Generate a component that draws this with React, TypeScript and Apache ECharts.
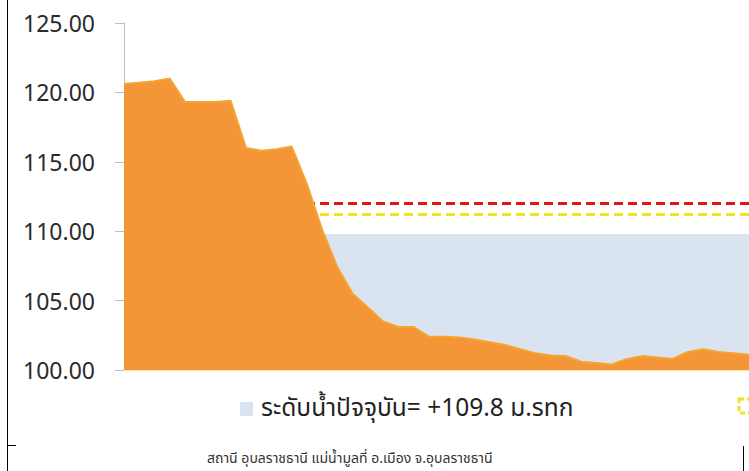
import React, { useEffect, useRef } from "react";
import * as echarts from "echarts";

const categories: string[] = Array.from({ length: 42 }, (_, i) => String(i + 1));
const waterLevel: number[] = [
  120.6, 120.7, 120.8, 121.0, 119.3, 119.3, 119.3, 119.4, 116.0, 115.8,
  115.9, 116.1, 113.4, 110.1, 107.4, 105.5, 104.5, 103.5, 103.1, 103.1,
  102.4, 102.4, 102.35, 102.2, 102.0, 101.8, 101.5, 101.2, 101.05, 101.0,
  100.6, 100.5, 100.4, 100.8, 101.0, 100.9, 100.8, 101.3, 101.5, 101.3,
  101.2, 101.1,
];
const currentLevel = 109.8;
const redLevel = 112.0;
const yellowLevel = 111.2;
const yTicks = { min: 100, max: 125, interval: 5 };
const legendText = "ระดับน้ำปัจจุบัน= +109.8 ม.รทก";
const captionText = "สถานี อุบลราชธานี แม่น้ำมูลที่ อ.เมือง จ.อุบลราชธานี";

const FONT = "'Noto Sans', 'Noto Sans Thai', 'Open Sans', sans-serif";

export default function App() {
  const ref = useRef<HTMLDivElement>(null);
  useEffect(() => {
    if (!ref.current) return;
    const chart = echarts.init(ref.current, undefined, { renderer: "svg" });
    const n = categories.length;
    chart.setOption({
      animation: false,
      backgroundColor: "#ffffff",
      grid: { left: 124, top: 23, height: 347, width: 635.5 },
      xAxis: {
        type: "category",
        data: categories,
        boundaryGap: false,
        axisLine: { show: true, lineStyle: { color: "#FCE6A8", width: 2 } },
        axisTick: { show: false },
        axisLabel: { show: false },
        splitLine: { show: false },
      },
      yAxis: {
        type: "value",
        min: yTicks.min,
        max: yTicks.max,
        interval: yTicks.interval,
        axisLine: { show: true, lineStyle: { color: "#BFBFBF", width: 1 } },
        axisTick: { show: true, length: 9, lineStyle: { color: "#BFBFBF" } },
        splitLine: { show: false },
        axisLabel: {
          margin: 29,
          fontSize: 23,
          color: "#2a2a2a",
          fontFamily: FONT,
          formatter: (v: number) => v.toFixed(2),
        },
      },
      series: [
        {
          name: "current",
          type: "line",
          data: new Array(n).fill(currentLevel),
          symbol: "none",
          lineStyle: { width: 0 },
          areaStyle: { color: "#DAE3F0", opacity: 1, origin: "start" },
          z: 1,
        },
        {
          name: "red",
          type: "line",
          data: new Array(n).fill(redLevel),
          symbol: "none",
          lineStyle: { color: "#E0161B", width: 3, type: [9, 5] },
          z: 2,
        },
        {
          name: "yellow",
          type: "line",
          data: new Array(n).fill(yellowLevel),
          symbol: "none",
          lineStyle: { color: "#F2E21F", width: 3, type: [9, 5] },
          z: 2,
        },
        {
          name: "level",
          type: "line",
          data: waterLevel,
          symbol: "none",
          lineStyle: { color: "#F5A52E", width: 2 },
          areaStyle: { color: "#F49638", opacity: 1, origin: "start" },
          z: 3,
        },
      ],
      graphic: [
        { type: "line", shape: { x1: 7.5, y1: 0, x2: 7.5, y2: 471 }, style: { stroke: "#000", lineWidth: 1 } },
        { type: "line", shape: { x1: 7, y1: 445.5, x2: 16, y2: 445.5 }, style: { stroke: "#000", lineWidth: 1 } },
        { type: "line", shape: { x1: 743.5, y1: 446, x2: 743.5, y2: 471 }, style: { stroke: "#000", lineWidth: 1 } },
        { type: "rect", shape: { x: 240, y: 402, width: 13, height: 14 }, style: { fill: "#DAE3F0" } },
        {
          type: "text",
          left: 261,
          top: 394,
          style: { text: legendText, fontSize: 24.5, fill: "#222222", fontFamily: FONT },
        },
        {
          type: "rect",
          shape: { x: 739, y: 399, width: 16, height: 14 },
          style: { fill: "none", stroke: "#F2E21F", lineWidth: 3, lineDash: [5, 3] },
        },
        {
          type: "text",
          left: 207,
          top: 450,
          style: { text: captionText, fontSize: 14, fill: "#333333", fontFamily: FONT },
        },
      ],
    });
    return () => chart.dispose();
  }, []);
  return <div ref={ref} style={{ width: 749, height: 471, position: "absolute", left: 0, top: 0 }} />;
}
